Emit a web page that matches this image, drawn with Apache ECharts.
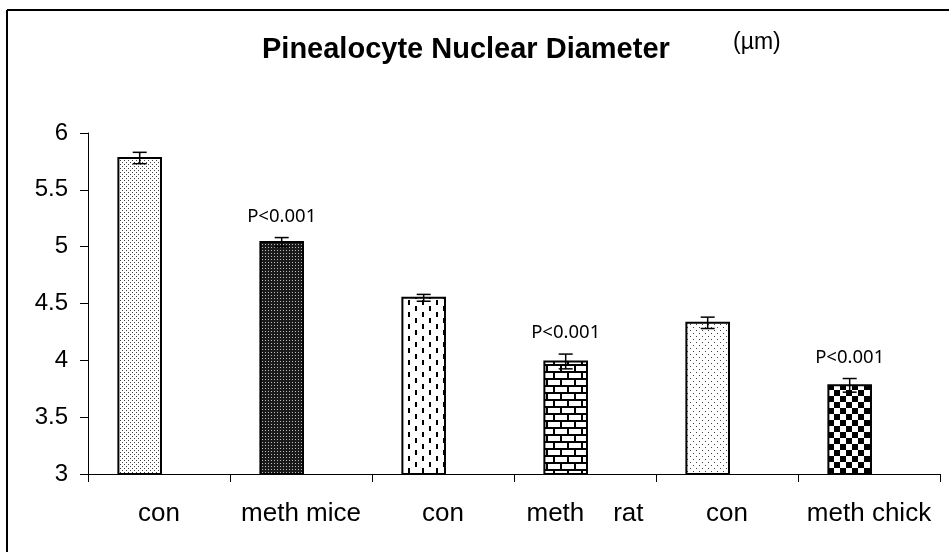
<!DOCTYPE html>
<html>
<head>
<meta charset="utf-8">
<script src="https://cdn.jsdelivr.net/npm/echarts@6/dist/echarts.min.js"></script>
<style>
html,body{margin:0;padding:0;background:#fff;}
#chart{width:949px;height:552px;}
</style>
</head>
<body>
<div id="chart"></div>
<script>
// ---- data ----
const categories = ['con', 'meth mice', 'con', 'meth    rat', 'con', 'meth chick'];
const means = [5.78, 5.04, 4.55, 3.99, 4.33, 3.78];
const errors = [0.05, 0.04, 0.03, 0.065, 0.05, 0.06];
const pLabels = ['', 'P<0.001', '', 'P<0.001', '', 'P<0.001'];
const yTicks = [3, 3.5, 4, 4.5, 5, 5.5, 6];
const titleText = 'Pinealocyte Nuclear Diameter';
const unitText = '(\u00b5m)';

// ---- patterns ----
function makeTile(w, h, draw) {
  const c = document.createElement('canvas');
  c.width = w; c.height = h;
  const g = c.getContext('2d');
  g.fillStyle = '#fff'; g.fillRect(0, 0, w, h);
  draw(g);
  return { image: c, repeat: 'repeat' };
}
const patterns = [
  makeTile(4, 4, g => { g.fillStyle = '#444'; g.fillRect(0, 0, 1, 1); g.fillRect(2, 2, 1, 1); }),
  makeTile(3, 3, g => { g.fillStyle = '#1a1a1a'; g.fillRect(0, 0, 3, 3); g.fillStyle = '#bbb'; g.fillRect(1, 1, 1, 1); }),
  makeTile(14, 12, g => { g.fillStyle = '#000'; g.fillRect(2, 0, 2, 5); g.fillRect(9, 6, 2, 5); }),
  makeTile(14, 14, g => { g.fillStyle = '#000'; g.fillRect(0, 0, 14, 2); g.fillRect(0, 7, 14, 2); g.fillRect(0, 0, 2, 7); g.fillRect(7, 7, 2, 7); }),
  makeTile(6, 6, g => { g.fillStyle = '#444'; g.fillRect(0, 0, 1, 1); g.fillRect(3, 3, 1, 1); }),
  makeTile(12, 12, g => { g.fillStyle = '#000'; g.fillRect(0, 0, 6, 6); g.fillRect(6, 6, 6, 6); })
];

const seriesData = means.map((m, i) => [i, m, errors[i]]);

function renderItem(params, api) {
  const idx = api.value(0);
  const val = api.value(1);
  const err = api.value(2);
  const band = api.size([1, 0])[0];
  const base = api.coord([idx, 3]);
  const top = api.coord([idx, val]);
  const eTop = api.coord([idx, val + err]);
  const eBot = api.coord([idx, val - err]);
  const w = band * 0.30;
  const cx = base[0] - band * 0.136;
  const cap = 7;
  const children = [
    { type: 'rect', shape: { x: cx - w / 2, y: top[1], width: w, height: base[1] - top[1] },
      style: { fill: patterns[idx], stroke: '#000', lineWidth: 2 } },
    { type: 'line', shape: { x1: cx, y1: eTop[1], x2: cx, y2: eBot[1] }, style: { stroke: '#000', lineWidth: 1.5 } },
    { type: 'line', shape: { x1: cx - cap, y1: eTop[1], x2: cx + cap, y2: eTop[1] }, style: { stroke: '#000', lineWidth: 1.5 } },
    { type: 'line', shape: { x1: cx - cap, y1: eBot[1], x2: cx + cap, y2: eBot[1] }, style: { stroke: '#000', lineWidth: 1.5 } }
  ];
  if (pLabels[idx]) {
    children.push({ type: 'text', x: cx, y: eTop[1] - 21,
      style: { text: pLabels[idx], fill: '#000', font: '18.5px "Noto Sans"', textAlign: 'center', textVerticalAlign: 'middle' } });
  }
  return { type: 'group', children };
}

const chart = echarts.init(document.getElementById('chart'), null, { renderer: 'canvas' });
chart.setOption({
  animation: false,
  backgroundColor: '#fff',
  grid: { left: 88, right: 9, top: 133, bottom: 78, containLabel: false },
  xAxis: {
    type: 'category',
    data: categories,
    axisLine: { lineStyle: { color: '#000', width: 1 } },
    axisTick: { show: true, length: 8, lineStyle: { color: '#000' } },
    axisLabel: { color: '#000', fontFamily: 'Liberation Sans', fontSize: 26, margin: 27, interval: 0 }
  },
  yAxis: {
    type: 'value',
    min: yTicks[0],
    max: yTicks[yTicks.length - 1],
    interval: 0.5,
    splitLine: { show: false },
    axisLine: { show: true, lineStyle: { color: '#000', width: 1 } },
    axisTick: { show: true, length: 8, lineStyle: { color: '#000' } },
    axisLabel: { color: '#000', fontFamily: 'Liberation Sans', fontSize: 24, margin: 20 }
  },
  graphic: [
    { type: 'line', shape: { x1: 7, y1: 10, x2: 949, y2: 10 }, style: { stroke: '#000', lineWidth: 2 } },
    { type: 'line', shape: { x1: 7, y1: 10, x2: 7, y2: 552 }, style: { stroke: '#000', lineWidth: 2 } },
    { type: 'text', left: 262, top: 35, style: { text: titleText, font: 'bold 29px "Liberation Sans"', fill: '#000' } },
    { type: 'text', left: 733, top: 31, style: { text: unitText, font: '23px "Liberation Sans"', fill: '#000' } }
  ],
  series: [{
    type: 'custom',
    renderItem: renderItem,
    data: seriesData,
    encode: { x: 0, y: 1 },
    clip: false
  }]
});
</script>
</body>
</html>
